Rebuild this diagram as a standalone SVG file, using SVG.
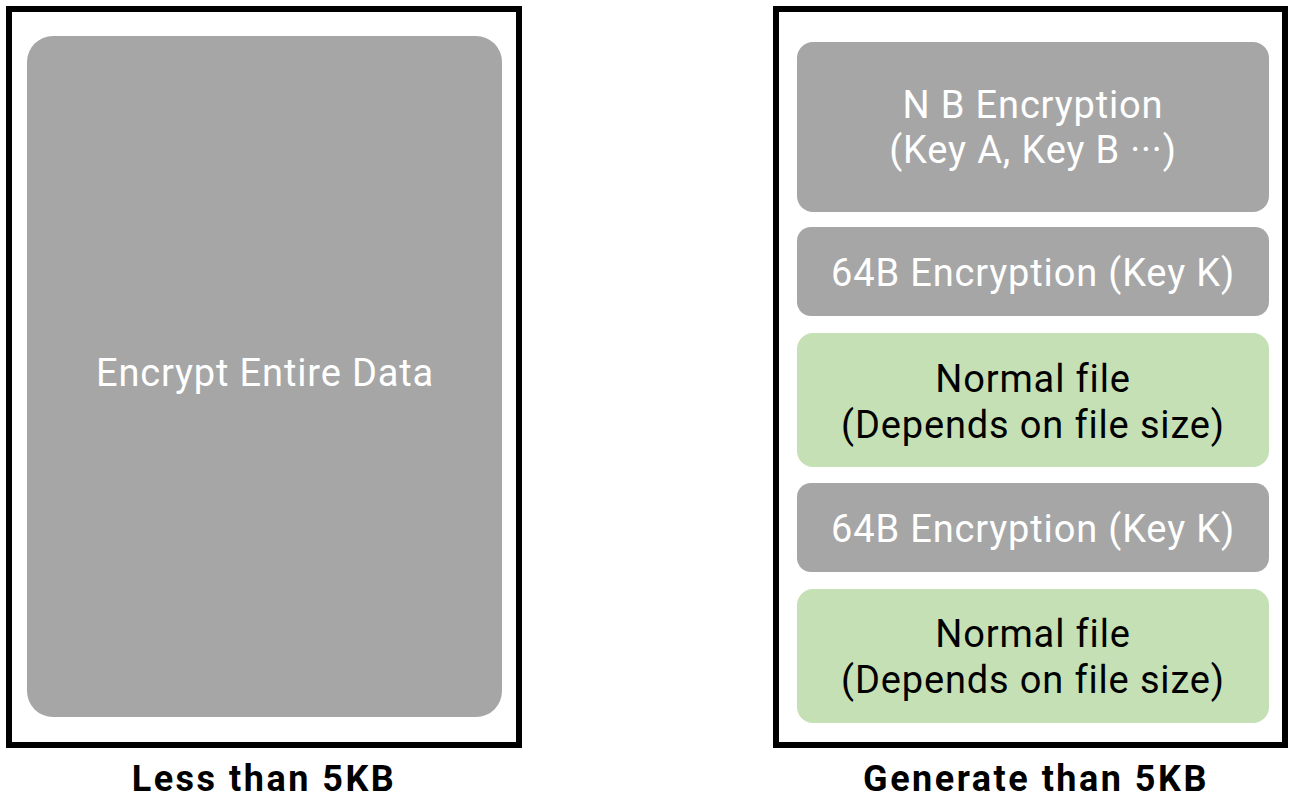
<svg xmlns="http://www.w3.org/2000/svg" width="1290" height="800" viewBox="0 0 1290 800">
<style>
.frame{fill:#fff;stroke:#000;stroke-width:6}
.gray{fill:#A6A6A6}
.green{fill:#C5E0B4}
text{font-family:Roboto,"Liberation Sans",sans-serif;text-anchor:middle}
.w{fill:#fff;font-size:38px;letter-spacing:0.85px}
.b{fill:#000;font-size:38px;letter-spacing:0.85px}
.lbl{fill:#000;font-size:36px;font-weight:bold;letter-spacing:2.5px}
</style>
<rect width="1290" height="800" fill="#fff"/>
<g id="left-frame">
<rect class="frame" x="9" y="9" width="510" height="736"/>
</g>
<g id="encrypt-entire">
<rect class="gray" x="27" y="36" width="475" height="681" rx="26"/>
<text class="w" x="265" y="386">Encrypt Entire Data</text>
</g>
<g id="right-frame">
<rect class="frame" x="776" y="9" width="509" height="736"/>
</g>
<g id="nb-encryption">
<rect class="gray" x="797" y="42" width="472" height="170" rx="16"/>
<text class="w" x="1033" y="118">N B Encryption</text>
<text class="w" x="1033" y="163">(Key A, Key B ···)</text>
</g>
<g id="enc64-1">
<rect class="gray" x="797" y="227" width="472" height="89" rx="14"/>
<text class="w" x="1033" y="286">64B Encryption (Key K)</text>
</g>
<g id="normal-1">
<rect class="green" x="797" y="333" width="472" height="134" rx="16"/>
<text class="b" x="1033" y="392">Normal file</text>
<text class="b" x="1033" y="438">(Depends on file size)</text>
</g>
<g id="enc64-2">
<rect class="gray" x="797" y="483" width="472" height="89" rx="14"/>
<text class="w" x="1033" y="542">64B Encryption (Key K)</text>
</g>
<g id="normal-2">
<rect class="green" x="797" y="589" width="472" height="134" rx="16"/>
<text class="b" x="1033" y="647">Normal file</text>
<text class="b" x="1033" y="693">(Depends on file size)</text>
</g>
<g id="label-left">
<text class="lbl" x="264" y="791">Less than 5KB</text>
</g>
<g id="label-right">
<text class="lbl" x="1036" y="791">Generate than 5KB</text>
</g>
<g id="connectors"></g>
</svg>
